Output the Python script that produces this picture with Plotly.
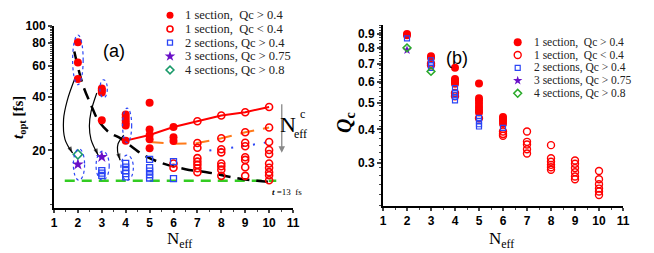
import math
import plotly.graph_objects as go

# the page adds an 8px body margin, so the figure is drawn 8px smaller and positions are offset
OFF = 8
FW, FH = 654 - OFF, 253 - OFF


def PX(x):
    return (x - OFF) / FW


def PY(y):
    return 1 - (y - OFF) / FH


# ---------------- data: panel (a)  t_opt [fs] vs N_eff ----------------
a_one_hi_x = [2, 2, 2, 3, 3, 3, 3, 4, 4, 4, 4, 4, 4, 5, 5, 5, 5, 5, 6, 6, 6]
a_one_hi_y = [81, 62.4, 50.4, 44.5, 43.5, 42.3, 29.6, 31.8, 30.6, 29.5, 28.4, 27.6, 22.7,
              37.0, 26.2, 24.4, 23.1, 20.6, 27.1, 23.7, 22.6]
a_one_lo_x = [6, 6, 7, 7, 7, 7, 7, 7, 7, 7, 8, 8, 8, 8, 8, 8, 8, 8,
              9, 9, 9, 9, 9, 9, 9, 9, 10, 10, 10, 10, 10, 10, 10, 10, 10, 10]
a_one_lo_y = [16.9, 16.0, 29.2, 22.0, 20.7, 18.1, 17.3, 16.6, 15.9, 15.1,
              31.4, 23.4, 20.3, 19.5, 16.9, 16.3, 15.6, 14.4,
              32.8, 25.3, 22.1, 21.1, 18.3, 17.7, 16.1, 14.4,
              35.1, 26.9, 22.3, 20.1, 19.1, 16.9, 16.0, 15.1, 14.5, 13.6]
a_two_x = [3, 3, 3, 4, 4, 4, 4, 4, 5, 5, 5, 5, 5, 6, 6]
a_two_y = [15.4, 14.9, 14.5, 16.9, 16.1, 15.4, 14.8, 14.2, 17.8, 16.0, 15.3, 14.6, 14.0, 17.3, 13.9]
a_three_x = [2, 3]
a_three_y = [16.7, 18.4]
a_four_x = [2]
a_four_y = [19.0]

a_red_line_x = [4, 5, 6, 7, 8, 9, 10]
a_red_line_y = [22.7, 24.4, 27.1, 29.2, 31.4, 32.8, 35.1]
a_orange_x = [5, 6, 7, 8, 9, 10]
a_orange_y = [22.3, 21.8, 22.0, 23.4, 25.3, 26.9]
a_bluedot_x = [7.5, 8, 9, 10]
a_bluedot_y = [20.0, 20.4, 21.2, 22.3]
a_black_x = [1.85, 2.2, 2.55, 2.85, 3.3, 3.8, 4.7, 5.4, 6.5, 7.5, 8.5, 9.5, 10.2]
a_black_y = [72, 47, 36, 29.5, 25.3, 23.3, 19.0, 17.2, 15.7, 15.0, 14.1, 13.5, 13.3]
a_green_x = [1.45, 10.3]
a_green_y = [13.5, 13.5]

# ---------------- data: panel (b)  Q_c vs N_eff ----------------
b_one_hi_x = [2, 2, 3, 3, 4, 4, 4, 4, 4, 5, 5, 5, 5, 5, 5, 5, 6, 6, 6, 6]
b_one_hi_y = [0.90, 0.89, 0.745, 0.735, 0.676, 0.614, 0.605, 0.597, 0.59,
              0.591, 0.521, 0.51, 0.497, 0.484, 0.472, 0.462, 0.445, 0.437, 0.43, 0.42]
b_one_lo_x = [3, 3, 4, 4, 5, 6, 6, 6, 7, 7, 7, 7, 7, 8, 8, 8, 8, 8, 8,
              9, 9, 9, 9, 9, 9, 10, 10, 10, 10, 10, 10]
b_one_lo_y = [0.70, 0.69, 0.545, 0.53, 0.44, 0.393, 0.385, 0.379,
              0.393, 0.360, 0.352, 0.338, 0.326,
              0.350, 0.313, 0.304, 0.296, 0.290, 0.284,
              0.307, 0.299, 0.288, 0.278, 0.268, 0.262,
              0.281, 0.262, 0.251, 0.242, 0.236, 0.229]
b_two_x = [2, 3, 3, 3, 3, 4, 4, 4, 4, 4, 5, 5, 5, 5, 6]
b_two_y = [0.867, 0.72, 0.705, 0.69, 0.675, 0.568, 0.547, 0.537, 0.527, 0.512,
           0.441, 0.43, 0.418, 0.41, 0.405]
b_three_x = [2]
b_three_y = [0.785]
b_four_x = [2, 3]
b_four_y = [0.80, 0.655]

legend_labels = ["1 section,\u00a0 Qc > 0.4", "1 section,\u00a0 Qc < 0.4", "2 sections, Qc > 0.4",
                 "3 sections, Qc > 0.75", "4 sections, Qc > 0.8"]
x_ticks = list(range(1, 12))
a_y_ticks = [20, 40, 60, 80, 100]
b_y_ticks = [0.3, 0.4, 0.5, 0.6, 0.7, 0.8, 0.9]

# ---------------- styles ----------------
RED = "#ff0000"
BLUE = "#2b45f5"
PURPLE = "#6a10c8"
TEAL = "#1a9a6a"
GREEN_B = "#2aaa2a"
SERIF = "Liberation Serif"
SANS = "Liberation Sans"

styles = [
    dict(symbol="circle", color=RED, line=dict(width=0), size=8),
    dict(symbol="circle-open", color=RED, line=dict(width=1.6), size=7),
    dict(symbol="square-open", color=BLUE, line=dict(width=1.3), size=6),
    dict(symbol="star", color=PURPLE, line=dict(width=0), size=9),
    dict(symbol="diamond-open", color=TEAL, line=dict(width=1.6), size=7),
]
styles_b = [
    dict(symbol="circle", color=RED, line=dict(width=0), size=8),
    dict(symbol="circle-open", color=RED, line=dict(width=1.4), size=7),
    dict(symbol="square-open", color=BLUE, line=dict(width=1.2), size=5),
    dict(symbol="star", color=PURPLE, line=dict(width=0), size=7),
    dict(symbol="diamond-open", color=GREEN_B, line=dict(width=1.5), size=6),
]

fig = go.Figure()


def line(xs, ys, color, width, dash, xa="x", ya="y", shape="linear"):
    fig.add_trace(go.Scatter(x=xs, y=ys, mode="lines", xaxis=xa, yaxis=ya,
                             line=dict(color=color, width=width, dash=dash, shape=shape),
                             hoverinfo="skip", showlegend=False))


# panel (a) lines
line(a_green_x, a_green_y, "#33cc22", 2.5, "10px,7px")
line(a_black_x, a_black_y, "black", 2.5, "12px,7px", shape="spline")
line(a_orange_x, a_orange_y, "#ff7a1a", 2, "14px,9px")
line(a_bluedot_x, a_bluedot_y, BLUE, 2, "2px,9px")
line(a_red_line_x, a_red_line_y, RED, 2, "solid")

# curved arrows (panel a)
arrows = [
    ([1.88, 1.55, 1.40, 1.46, 1.78], [51, 38, 29.9, 23.1, 19.3]),
    ([2.79, 2.55, 2.48, 2.55, 2.85], [42, 33, 27.4, 23.0, 18.8]),
    ([3.92, 3.68, 3.66, 3.77], [24.4, 21.8, 19.8, 17.6]),
]
for ax_, ay_ in arrows:
    n = len(ax_)
    fig.add_trace(go.Scatter(x=ax_, y=ay_, mode="lines+markers", xaxis="x", yaxis="y",
                             line=dict(color="black", width=1.2, shape="spline"),
                             marker=dict(symbol=["circle"] * (n - 1) + ["arrow"],
                                         size=[0] * (n - 1) + [7], angleref="previous",
                                         color="black", line=dict(width=0)),
                             hoverinfo="skip", showlegend=False))

# panel (a) points
for (xs, ys), st in zip([(a_one_hi_x, a_one_hi_y), (a_one_lo_x, a_one_lo_y), (a_two_x, a_two_y),
                         (a_three_x, a_three_y), (a_four_x, a_four_y)], styles):
    fig.add_trace(go.Scatter(x=xs, y=ys, mode="markers", xaxis="x", yaxis="y",
                             marker=dict(symbol=st["symbol"], size=st["size"], color=st["color"],
                                         line=dict(color=st["color"], width=st["line"]["width"])),
                             showlegend=False))

# panel (b) points
for (xs, ys), st in zip([(b_one_lo_x, b_one_lo_y), (b_one_hi_x, b_one_hi_y), (b_two_x, b_two_y),
                         (b_three_x, b_three_y), (b_four_x, b_four_y)],
                        [styles_b[1], styles_b[0], styles_b[2], styles_b[3], styles_b[4]]):
    fig.add_trace(go.Scatter(x=xs, y=ys, mode="markers", xaxis="x2", yaxis="y2",
                             marker=dict(symbol=st["symbol"], size=st["size"], color=st["color"],
                                         line=dict(color=st["color"], width=st["line"]["width"])),
                             showlegend=False))

# custom legends on hidden axes
rows = list(range(len(legend_labels)))
for i, st in enumerate(styles):
    fig.add_trace(go.Scatter(x=[0], y=[rows[i]], mode="markers", xaxis="x3", yaxis="y3",
                             marker=dict(symbol=st["symbol"], size=st["size"] - 1, color=st["color"],
                                         line=dict(color=st["color"], width=st["line"]["width"])),
                             showlegend=False, hoverinfo="skip"))
for i, st in enumerate(styles_b):
    fig.add_trace(go.Scatter(x=[0], y=[rows[i]], mode="markers", xaxis="x4", yaxis="y4",
                             marker=dict(symbol=st["symbol"], size=st["size"], color=st["color"],
                                         line=dict(color=st["color"], width=st["line"]["width"])),
                             showlegend=False, hoverinfo="skip"))

annotations = []
for i, lab in enumerate(legend_labels):
    annotations.append(dict(x=1.3, y=rows[i], xref="x3", yref="y3", text=lab, showarrow=False,
                            xanchor="left", yanchor="middle",
                            font=dict(family=SERIF, size=12.5, color="#222")))
    annotations.append(dict(x=1.4, y=rows[i], xref="x4", yref="y4", text=lab, showarrow=False,
                            xanchor="left", yanchor="middle",
                            font=dict(family=SERIF, size=11.5, color="#222")))

# ellipses
shapes = []
ellipses = [
    (1.78, 2.22, 46.8, 89), (1.81, 2.28, 13.6, 20.4),
    (2.92, 3.23, 39.5, 49.9), (2.76, 3.31, 13.6, 19.8),
    (3.87, 4.25, 22.1, 34.6), (3.80, 4.32, 13.6, 18.8),
]
for x0, x1, y0, y1 in ellipses:
    shapes.append(dict(type="circle", xref="x", yref="y", x0=x0, x1=x1, y0=y0, y1=y1,
                       line=dict(color=BLUE, width=1.2, dash="dot")))

# N_eff^c arrow
annotations.append(dict(x=10.53, y=math.log10(19.4), xref="x", yref="y", ax=0, ay=-50,
                        showarrow=True, arrowhead=2, arrowsize=1, arrowwidth=1.3,
                        arrowcolor="#888888", text=""))


def label(x, y, text, family, size, angle=0):
    annotations.append(dict(x=PX(x), y=PY(y), xref="paper", yref="paper", text=text,
                            showarrow=False, xanchor="center", yanchor="middle", textangle=angle,
                            font=dict(family=family, size=size, color="black")))


label(288, 124, "N", SERIF, 22)
label(302, 114, "c", SERIF, 12)
label(300, 134, "eff", SERIF, 12)
label(287, 192, "<b><i>t</i></b> =13  fs", SERIF, 9)
label(114, 51, "(a)", SANS, 18)
label(457, 58, "(b)", SANS, 18)
label(179, 240, "N<sub>eff</sub>", SERIF, 17)
label(501, 240, "N<sub>eff</sub>", SERIF, 17)
label(19, 118, "<b><i>t</i><sub>opt</sub> [fs]</b>", SERIF, 15, -90)
label(345, 123, "<b><i>Q</i><sub>c</sub></b>", SERIF, 20, -90)

tickfont = dict(family=SANS, size=12, color="black", weight="bold")
common_x = dict(range=[1, 11], tickvals=x_ticks, ticks="outside", ticklen=3, tickwidth=1.5,
                showline=True, linewidth=2, linecolor="black", showgrid=False, zeroline=False,
                tickfont=tickfont, automargin=False,
                minor=dict(ticks="outside", ticklen=2, tickwidth=1, dtick=0.5, showgrid=False))

fig.update_layout(
    width=FW, height=FH, margin=dict(l=0, r=0, t=0, b=0, autoexpand=False),
    paper_bgcolor="white", plot_bgcolor="white", showlegend=False,
    xaxis=dict(domain=[PX(54), PX(293)], anchor="y", **common_x),
    yaxis=dict(type="log", domain=[PY(208), PY(26)], anchor="x", automargin=False,
               range=[math.log10(9.5), 2.0], tickvals=a_y_ticks, ticks="outside", ticklen=4,
               tickwidth=1.5, showline=True, linewidth=2, linecolor="black", showgrid=False,
               zeroline=False, tickfont=tickfont,
               minor=dict(ticks="outside", ticklen=2, tickwidth=1, showgrid=False,
                          tickvals=list(range(10, 101, 2)))),
    xaxis2=dict(domain=[PX(383), PX(623)], anchor="y2", **common_x),
    yaxis2=dict(type="log", domain=[PY(206), PY(25)], anchor="x2", automargin=False,
                range=[math.log10(0.2087), math.log10(0.9714)], tickvals=b_y_ticks,
                ticks="outside", ticklen=4, tickwidth=1.5, showline=True, linewidth=2,
                linecolor="black", showgrid=False, zeroline=False, tickfont=tickfont,
                minor=dict(ticks="outside", ticklen=2, tickwidth=1, showgrid=False,
                           tickvals=[v / 100 for v in range(21, 98, 2)])),
    xaxis3=dict(domain=[PX(160), PX(330)], range=[-1, 16], visible=False, anchor="y3", automargin=False),
    yaxis3=dict(domain=[PY(76.8), PY(8.5)], range=[4.5, -0.5], visible=False, anchor="x3", automargin=False),
    xaxis4=dict(domain=[PX(507.7), PX(617.7)], range=[-1, 10], visible=False, anchor="y4", automargin=False),
    yaxis4=dict(domain=[PY(99.7), PY(35.9)], range=[4.5, -0.5], visible=False, anchor="x4", automargin=False),
    annotations=annotations, shapes=shapes,
)

fig.write_html("out.html")
